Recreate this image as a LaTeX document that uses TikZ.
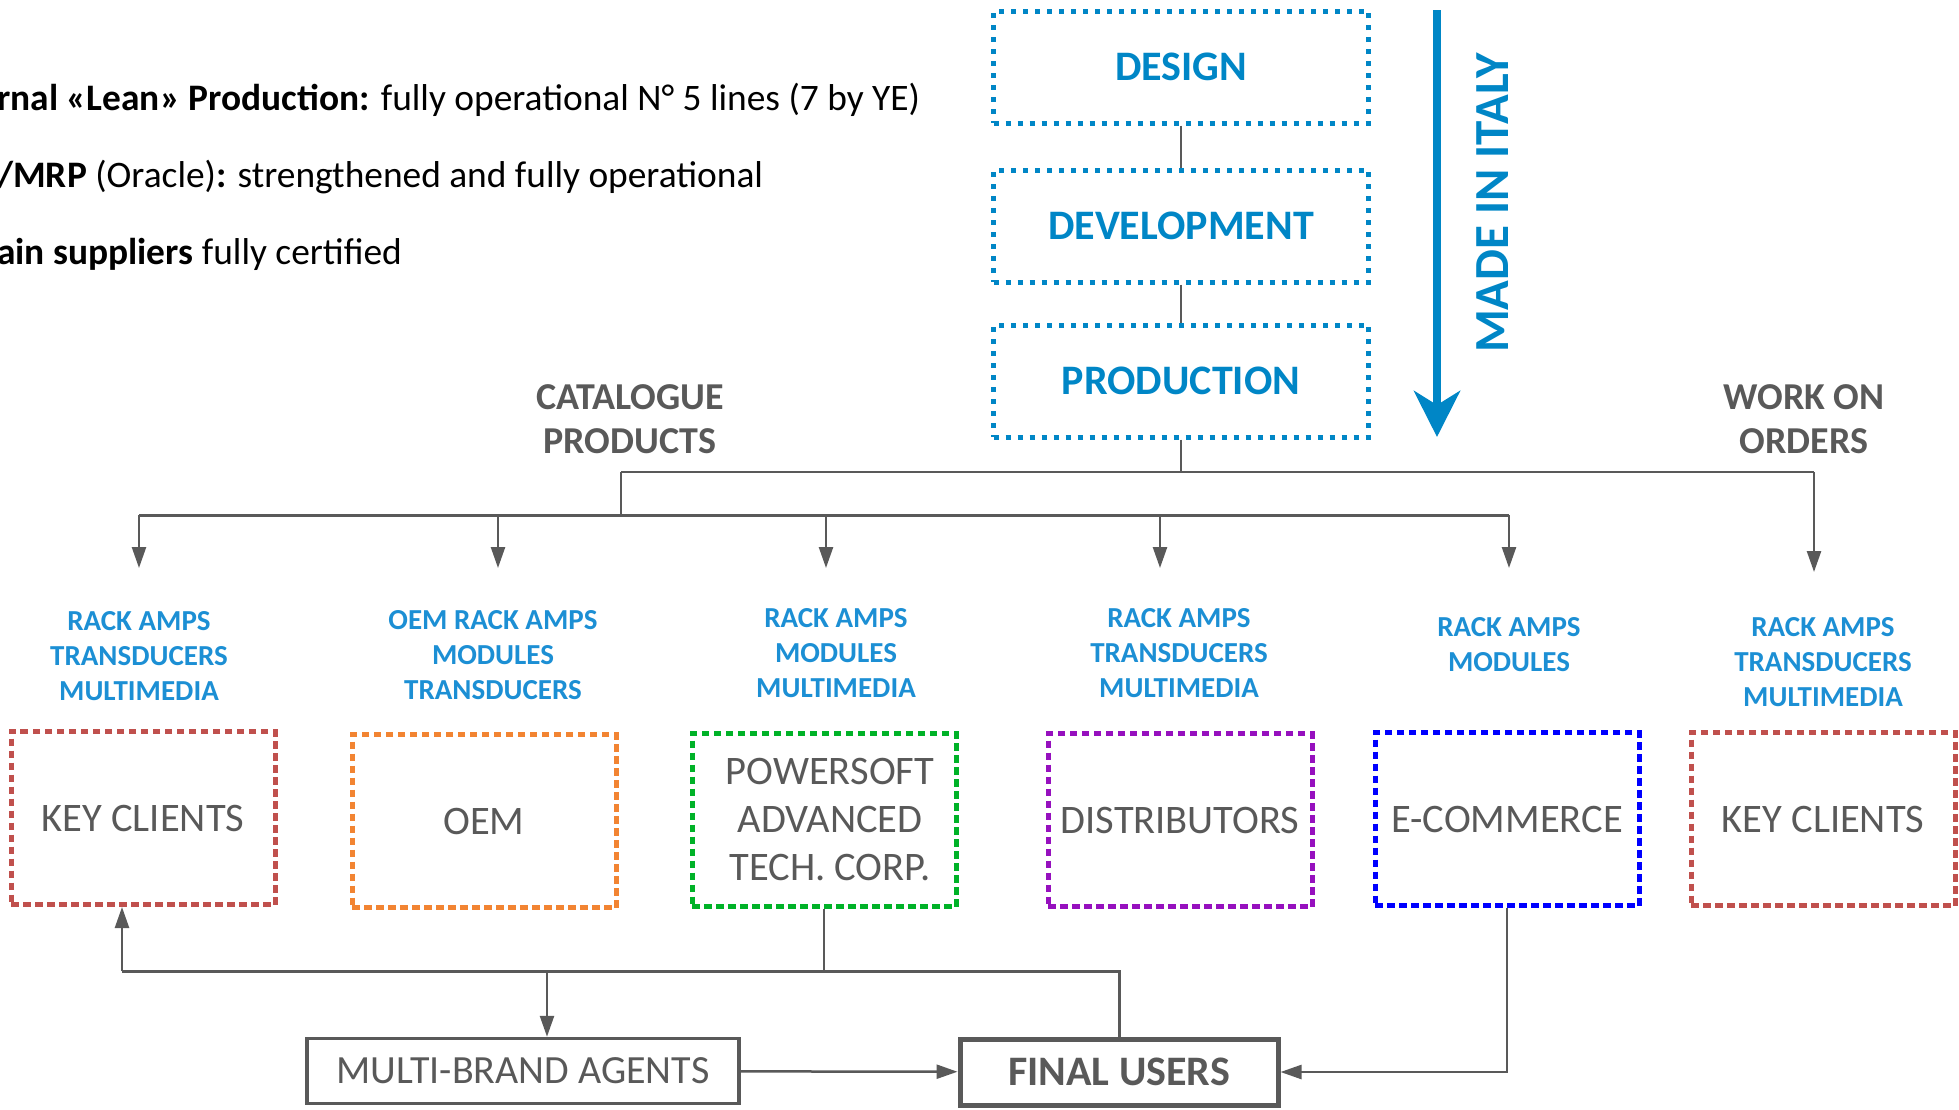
\documentclass[tikz,border=0pt]{standalone}
\usepackage{fontspec}
\setmainfont{Carlito}
\usepackage{tikz}
\usetikzlibrary{arrows.meta}
\definecolor{dblue}{RGB}{0,134,198}
\definecolor{lblue}{RGB}{28,143,212}
\definecolor{dgray}{RGB}{89,89,89}
\definecolor{kred}{RGB}{192,80,77}
\definecolor{korange}{RGB}{242,132,50}
\definecolor{kgreen}{RGB}{0,178,40}
\definecolor{kpurple}{RGB}{150,16,190}
\definecolor{kblue}{RGB}{0,0,255}
\tikzset{
stage/.style={rectangle, draw=dblue, line width=5pt, dash pattern=on 5pt off 7pt, minimum width=375pt, minimum height=112pt, text=dblue, font=\fontsize{42}{50}\selectfont\bfseries},
channel/.style={rectangle, line width=5pt, dash pattern=on 7.5pt off 4.5pt, minimum width=264pt, minimum height=173pt, inner sep=0pt, text=dgray, align=center, font=\fontsize{40.5}{48}\selectfont},
prodlabel/.style={text=lblue, align=center, font=\fontsize{29}{35}\selectfont\bfseries},
flowlabel/.style={text=dgray, align=center, font=\fontsize{38}{44}\selectfont\bfseries},
note/.style={anchor=west, inner sep=0pt, text=black, font=\fontsize{37.4}{44}\selectfont},
sink/.style={rectangle, draw=dgray, text=dgray},
link/.style={draw=dgray, line width=2.5pt},
tip/.style={-{Triangle[length=21pt,width=14pt]}}
}

\begin{document}
\begin{tikzpicture}[x=1pt, y=-1pt]
\useasboundingbox (0,0) rectangle (1959,1109);

% notes, cut at the left margin
\node[note] (note1) at (-3,100) {\textbf{rnal «Lean» Production:} fully operational N° 5 lines (7 by YE)};
\node[note] (note2) at (-3,177) {\textbf{/MRP} (Oracle)\textbf{:} strengthened and fully operational};
\node[note] (note3) at (-3,254) {\textbf{ain suppliers} fully certified};

% made in Italy
\node[stage] (design) at (1181,67) {DESIGN};
\node[stage] (devel) at (1181,226) {DEVELOPMENT};
\node[stage] (prod) at (1181,381) {PRODUCTION};
\draw[link] (design) -- (devel);
\draw[link] (devel) -- (prod);

\coordinate (itop) at (1437,10);
\coordinate (ibot) at (1437,437);
\draw[draw=dblue, line width=8pt, -{Stealth[length=46pt,width=46pt,inset=14pt]}] (itop) -- (ibot);
\node[rotate=90, text=dblue, font=\fontsize{49}{58}\selectfont\bfseries] (italy) at (1493,203) {MADE IN ITALY};

\node[flowlabel] (catalogue) at (630,419) {CATALOGUE\\PRODUCTS};
\node[flowlabel] (orders) at (1804,419) {WORK ON\\ORDERS};

% product lines
\node[prodlabel] (p1) at (139,656) {RACK AMPS\\TRANSDUCERS\\MULTIMEDIA};
\node[prodlabel] (p2) at (493,655) {OEM RACK AMPS\\MODULES\\TRANSDUCERS};
\node[prodlabel] (p3) at (836,653) {RACK AMPS\\MODULES\\MULTIMEDIA};
\node[prodlabel] (p4) at (1179,653) {RACK AMPS\\TRANSDUCERS\\MULTIMEDIA};
\node[prodlabel] (p5) at (1509,645) {RACK AMPS\\MODULES};
\node[prodlabel] (p6) at (1823,662) {RACK AMPS\\TRANSDUCERS\\MULTIMEDIA};

% tree from production
\coordinate (catj) at (621,472);
\coordinate (ordj) at (1814,472);
\coordinate (bus) at (621,515);
\coordinate (t1) at (139,568);
\coordinate (t2) at (498,568);
\coordinate (t3) at (826,568);
\coordinate (t4) at (1160,568);
\coordinate (t5) at (1509,568);
\coordinate (t6) at (1814,572);
\draw[link] (prod.south) -- (prod.south |- catj);
\draw[link] (catj) -- (ordj);
\draw[link] (catj) -- (bus);
\draw[link, line width=3pt] (t1 |- bus) -- (t5 |- bus);
\draw[link, tip] (t1 |- bus) -- (t1);
\draw[link, tip] (t2 |- bus) -- (t2);
\draw[link, tip] (t3 |- bus) -- (t3);
\draw[link, tip] (t4 |- bus) -- (t4);
\draw[link, tip] (t5 |- bus) -- (t5);
\draw[link, tip] (ordj) -- (t6);

% channels
\node[channel, draw=kred] (kc1) at (143,818) {KEY CLIENTS};
\node[channel, draw=korange] (oem) at (484,821) {OEM};
\node[channel, draw=kgreen] (pat) at (824,820) {\hspace*{12pt}POWERSOFT\\\hspace*{12pt}ADVANCED\\\hspace*{12pt}TECH. CORP.};
\node[channel, draw=kpurple] (dist) at (1180,820) {DISTRIBUTORS};
\node[channel, draw=kblue] (ecom) at (1507,819) {E-COMMERCE};
\node[channel, draw=kred] (kc2) at (1823,819) {KEY CLIENTS};

% final users
\node[sink, line width=3.5pt, minimum width=432pt, minimum height=65pt, font=\fontsize{40}{48}\selectfont] (mba) at (523,1071) {MULTI-BRAND AGENTS};
\node[sink, line width=5pt, minimum width=318pt, minimum height=66pt, font=\fontsize{42}{50}\selectfont\bfseries] (fin) at (1119,1072) {FINAL USERS};

\coordinate (busl) at (122,971);
\coordinate (busm) at (547,971);
\draw[link] (pat.south) -- (pat.south |- busl);
\draw[link, line width=3pt] (busl) -| (fin.north);
\draw[link, tip] (busl) -- (busl |- kc1.south);
\draw[link, tip] (busm) -- (busm |- mba.north);
\draw[link, tip] (mba) -- (fin);
\draw[link, tip] (ecom.south) |- (fin.east);
\end{tikzpicture}
\end{document}
